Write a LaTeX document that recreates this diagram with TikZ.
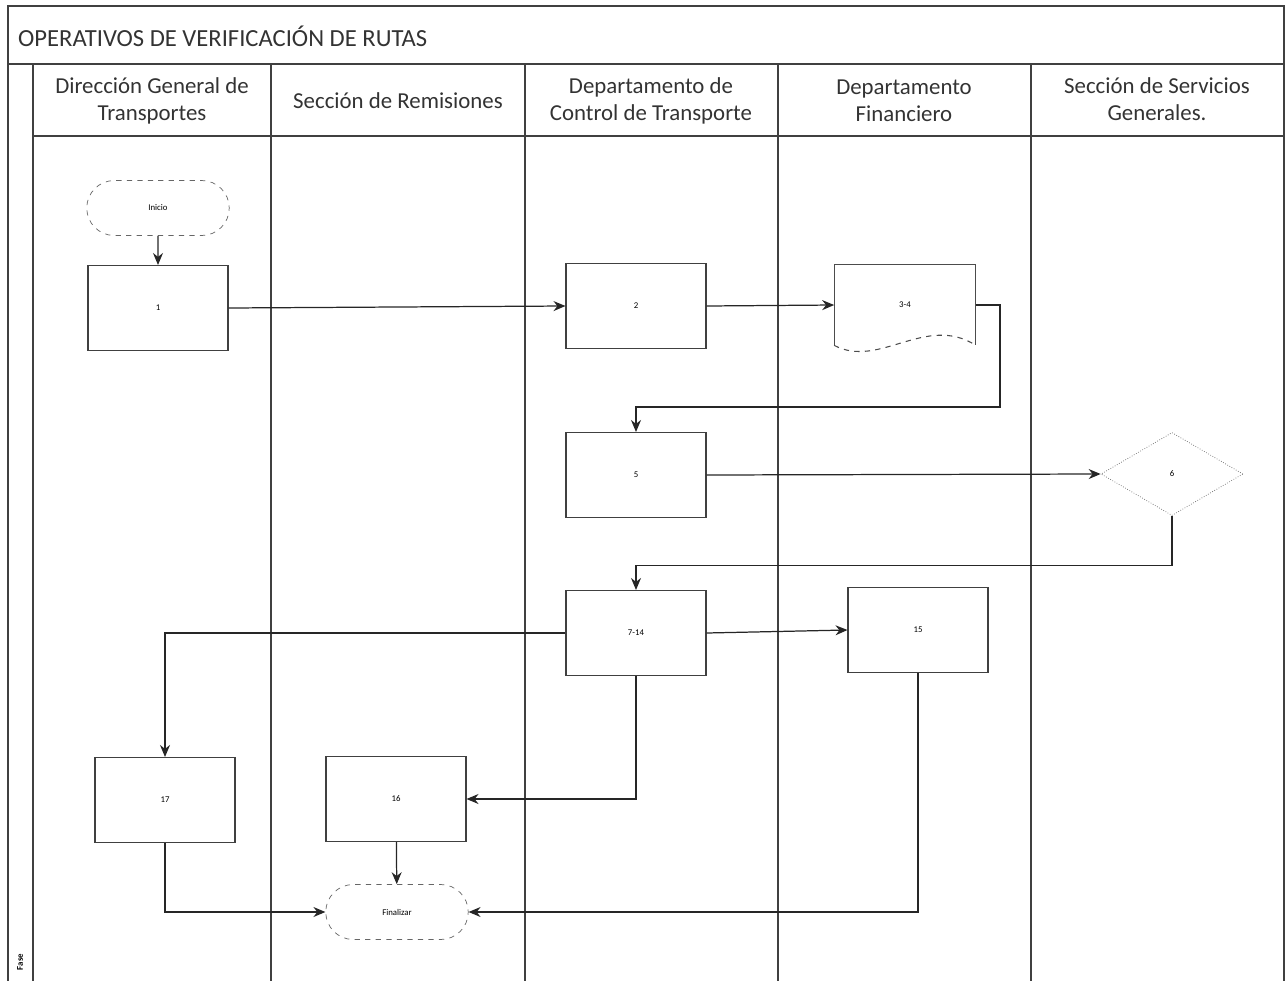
\documentclass[tikz,border=0pt]{standalone}
\usepackage{fontspec}
\setmainfont{Carlito}
\usetikzlibrary{shapes.geometric, shapes.misc, arrows.meta, positioning}

\begin{document}
\begin{tikzpicture}[
        x=0.02cm, y=-0.02cm,
        carril/.style={draw=black!75, line width=0.8pt},
        cabecera/.style={font=\fontsize{13}{15.5}\selectfont, align=center, text=black!80},
        proceso/.style={draw=black!75, line width=0.6pt, minimum width=2.8cm, minimum height=1.7cm, inner sep=0pt, font=\tiny},
        terminal/.style={rounded rectangle, draw=black!60, dashed, minimum width=2.85cm, minimum height=1.1cm, inner sep=0pt, font=\tiny},
        decision/.style={diamond, draw=black!60, densely dotted, aspect=1.7, minimum width=2.84cm, minimum height=1.66cm, inner sep=0pt, font=\tiny},
        flecha/.style={draw=black!85, line width=0.7pt, -{Stealth[length=2.4mm, width=2mm]}}
    ]
    \useasboundingbox (0,0) rectangle (1286,981);

    % Marco y titulo
    \draw[carril] (8,981) -- (8,6) -- (1284,6) -- (1284,981);
    \draw[carril] (8,64) -- (1284,64);
    \node[anchor=west, font=\fontsize{14}{16}\selectfont, text=black!80] (titulo) at (12,36) {OPERATIVOS DE VERIFICACIÓN DE RUTAS};

    % Carriles
    \draw[carril] (33,64) -- (33,981);
    \foreach \x in {271,525,778,1031} {
        \draw[carril] (\x,64) -- (\x,981);
    }
    \draw[carril] (33,136) -- (1284,136);
    \node[rotate=90, font=\tiny\bfseries] (fase) at (20,962) {Fase};

    \node[cabecera] (c1) at (152,101) {Dirección General de\\Transportes};
    \node[cabecera] (c2) at (398,101) {Sección de Remisiones};
    \node[cabecera] (c3) at (651,101) {Departamento de\\Control de Transporte};
    \node[cabecera] (c4) at (904,101) {Departamento\\Financiero};
    \node[cabecera] (c5) at (1157,99) {Sección de Servicios\\Generales.};

    % Nodos
    \node[terminal] (ini) at (158,208) {Inicio};
    \node[proceso] (p1) at (158,308) {1};
    \node[proceso] (p2) at (636,306) {2};
    \node[minimum width=2.82cm, minimum height=1.6cm, inner sep=0pt, font=\tiny] (doc) at (905,305) {3-4};
    \draw[draw=black!70, line width=0.6pt] (doc.south west) -- (doc.north west) -- (doc.north east) -- (doc.south east);
    \draw[draw=black!70, line width=0.6pt, dashed] (doc.south west) .. controls +(45,24) and +(-50,-32) .. (doc.south east);
    \node[proceso] (p5) at (636,475) {5};
    \node[decision] (d6) at (1172,474) {6};
    \node[proceso] (p7) at (636,633) {7-14};
    \node[proceso] (p15) at (918,630) {15};
    \node[proceso] (p17) at (165,800) {17};
    \node[proceso] (p16) at (396,799) {16};
    \node[terminal] (fin) at (397,912) {Finalizar};

    % Conectores
    \draw[flecha] (ini) -- (p1);
    \draw[flecha] (p1.east) -- (p2.west);
    \draw[flecha] (p2.east) -- (doc.west);
    \draw[flecha] (doc.east) -| (1000,407) -| (p5.north);
    \draw[flecha] (p5.east) -- (d6.west);
    \draw[flecha] (d6.south) -- ++(0,50) -| (p7.north);
    \draw[flecha] (p7.west) -| (p17.north);
    \draw[flecha] (p7.east) -- (p15.west);
    \draw[flecha] (p7.south) |- (p16.east);
    \draw[flecha] (p16) -- (fin);
    \draw[flecha] (p17.south) |- (fin.west);
    \draw[flecha] (p15.south) |- (fin.east);
\end{tikzpicture}
\end{document}
